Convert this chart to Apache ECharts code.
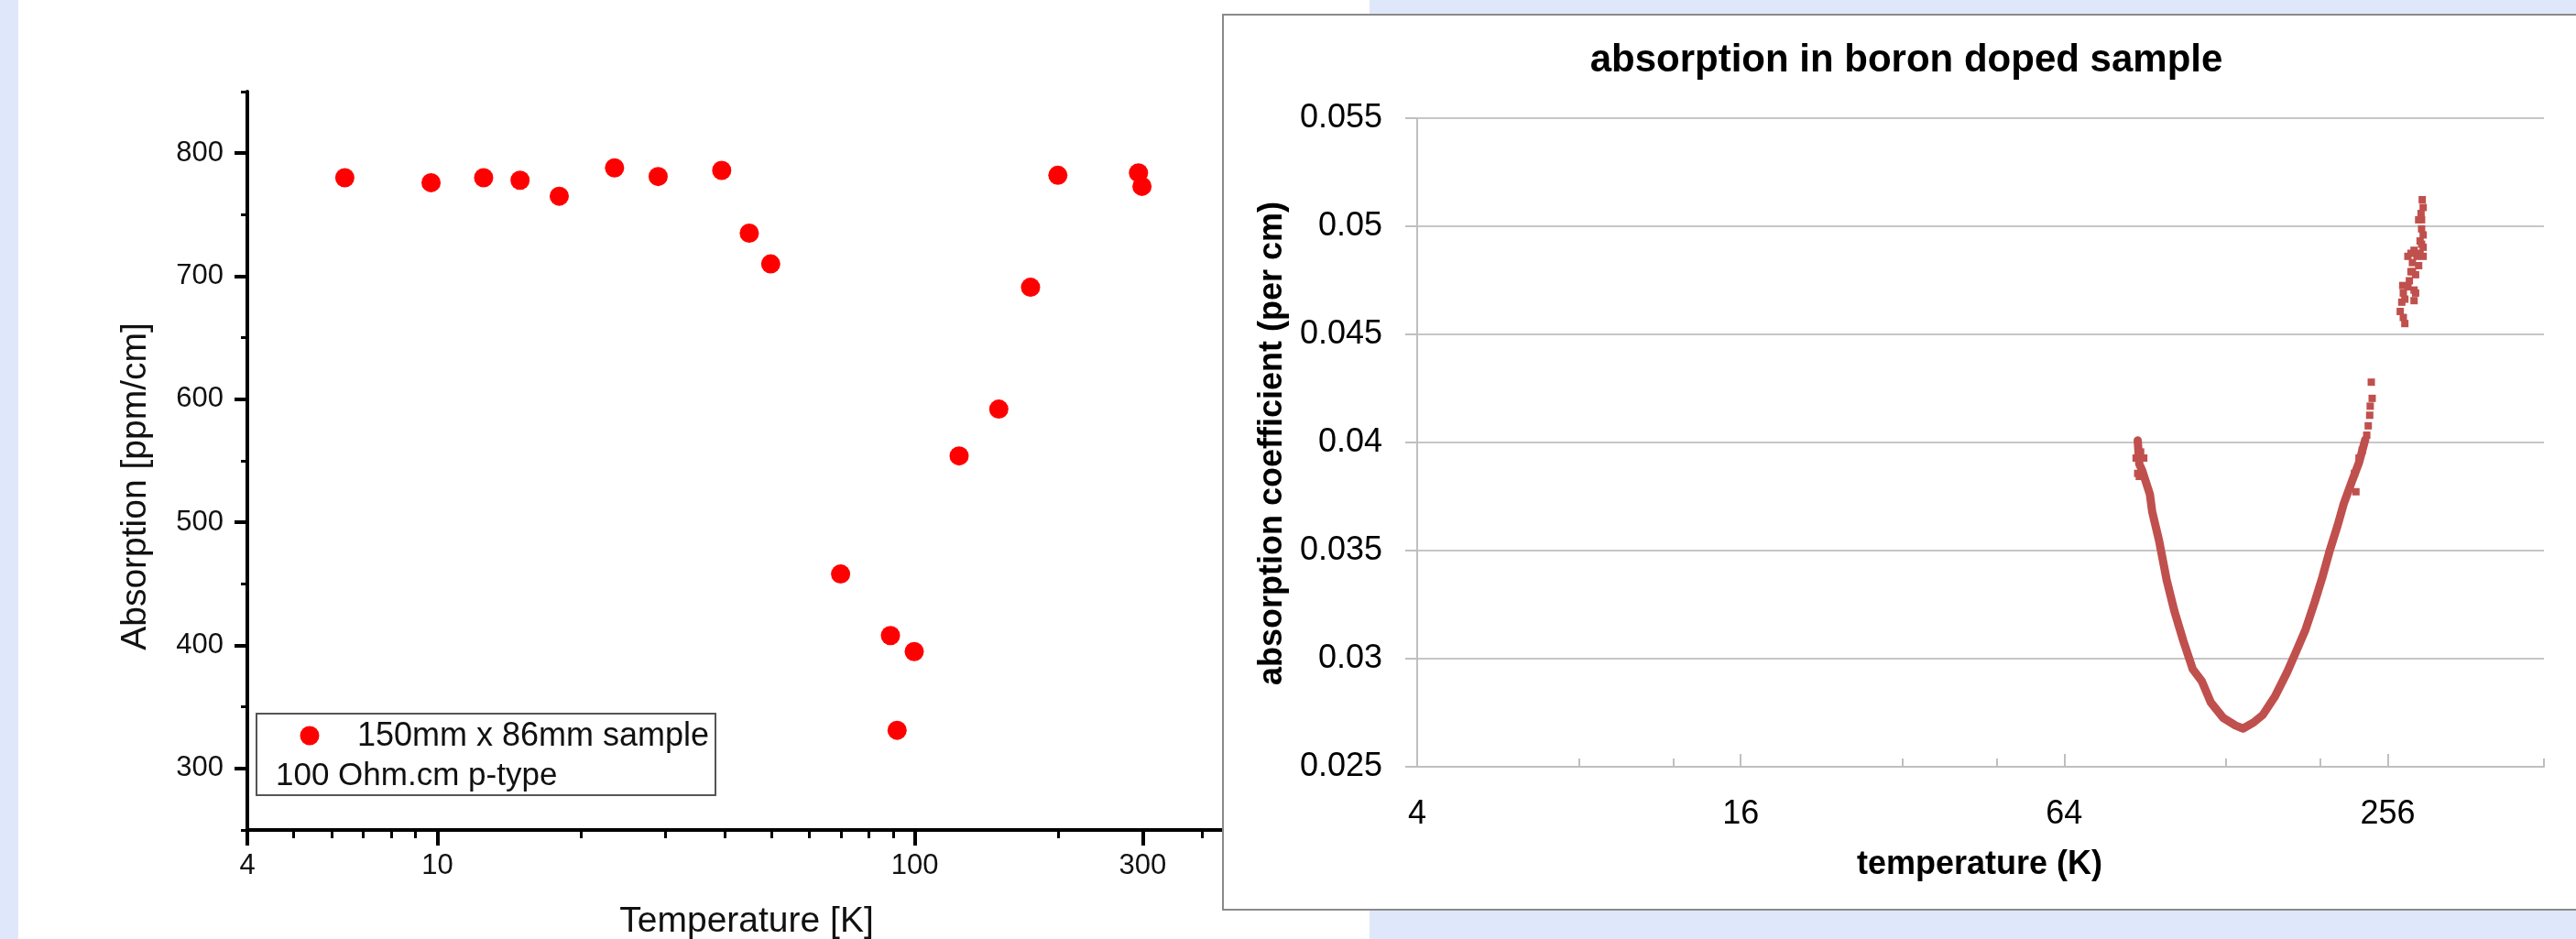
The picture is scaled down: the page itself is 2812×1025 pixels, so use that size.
<!DOCTYPE html>
<html>
<head>
<meta charset="utf-8">
<script src="https://cdn.jsdelivr.net/npm/echarts@6/dist/echarts.min.js"></script>
<style>
html, body { margin: 0; padding: 0; background: #dfe8fa; }
#main { width: 2812px; height: 1025px; }
</style>
</head>
<body>
<div id="main"></div>
<script>
// left panel: Origin plot, 150mm x 86mm sample
var sampleTemp = [6.4, 9.7, 12.5, 14.9, 18, 23.5, 29, 39.4, 45, 49.9, 69.9, 88.9, 91.8, 99.7, 123.8, 149.9, 174.7, 199.3, 294, 299];
var sampleAbs = [780, 776, 780, 778, 765, 788, 781, 786, 735, 710, 458, 408, 331, 395, 554, 592, 691, 782, 784, 773];
var leftXMajor = [4, 10, 100, 300];
var leftXMinor = [5, 6, 7, 8, 9, 20, 30, 40, 50, 60, 70, 80, 90, 200, 400];
var leftYMajor = [300, 400, 500, 600, 700, 800];
var leftYMinor = [250, 350, 450, 550, 650, 750, 850];

// right panel: Excel plot, boron doped sample
var boronTemp = [87.7, 88.3, 89.4, 92.4, 93.3, 96.1, 99.3, 102.6, 106.7, 111, 115.4, 120, 126.5, 133.3, 137.7, 144.1, 149.9, 157.9, 166.4, 173.2, 180.1, 187.3, 193.5, 199.9, 206.6, 212, 219.2, 226.4, 232.5];
var boronAbs = [0.0401, 0.039, 0.0387, 0.0376, 0.0368, 0.03546, 0.03363, 0.03221, 0.0308, 0.02952, 0.02896, 0.02797, 0.02726, 0.02691, 0.02677, 0.02705, 0.0274, 0.02825, 0.02938, 0.03037, 0.03136, 0.03263, 0.03377, 0.03504, 0.03617, 0.03716, 0.03815, 0.03907, 0.04013];
// loose points (start of run, top of the rising arm, room temperature cluster)
var boronNoiseTemp = [87.1, 88.8, 90, 87.7, 88.3, 223.4, 222, 229.5, 226.4, 234, 235.5, 237, 237.5, 239.5, 238.6,
    270.1, 273.7, 275.5, 271.9, 273.7, 273, 279.2, 280.9, 282.8, 284.6, 282.8, 286.6, 290.3, 292.3, 288.5, 286.6, 286.6, 294.1, 296, 296, 295.3, 292.3, 296.8, 298, 298,
    279.1, 298, 294.1, 284.6, 275.5, 288.5, 298, 296];
var boronNoiseAbs = [0.03928, 0.03956, 0.03928, 0.03857, 0.03843, 0.03772, 0.03857, 0.03963, 0.03928, 0.04034, 0.04077, 0.04126, 0.04168, 0.04204, 0.04279,
    0.04606, 0.04578, 0.0455, 0.04649, 0.04691, 0.04726, 0.0472, 0.04748, 0.0479, 0.04832, 0.04875, 0.04889, 0.04861, 0.04818, 0.04776, 0.04705, 0.04656, 0.04932, 0.04988, 0.0503, 0.05059, 0.0503, 0.05123, 0.05087, 0.04903,
    0.04861, 0.04861, 0.04875, 0.0479, 0.04663, 0.04691, 0.0496, 0.04917];
var rightXMajor = [4, 16, 64, 256];
var rightXMinor = [8, 12, 32, 48, 128, 192, 500];

function pairs(xs, ys) {
    var out = [];
    for (var i = 0; i < xs.length; i++) {
        out.push([xs[i], ys[i]]);
    }
    return out;
}

var font = 'Liberation Sans';
var excelRed = '#c0504d';
var excelGrey = '#bfbfbf';

var myChart = echarts.init(document.getElementById('main'));
var option = {
    animation: false,
    backgroundColor: '#dfe8fa',
    textStyle: { fontFamily: font },
    grid: [
        { left: 270, top: 100, width: 1093, height: 806, outerBoundsMode: 'none' },
        { left: 1547, top: 129, width: 1230, height: 708, outerBoundsMode: 'none' }
    ],
    xAxis: [
        {//左图主刻度
            gridIndex: 0, type: 'log', logBase: 10, min: 4, max: 500, position: 'bottom',
            axisLine: { onZero: false, lineStyle: { color: '#000', width: 4 } },
            axisTick: { customValues: leftXMajor, length: 17, lineStyle: { color: '#000', width: 4 } },
            axisLabel: { customValues: leftXMajor, fontSize: 31, margin: 24, color: '#111', fontFamily: font,
                formatter: function (v) { return String(Math.round(v)); } },
            splitLine: { show: false }
        },
        {//左图次刻度
            gridIndex: 0, type: 'log', logBase: 10, min: 4, max: 500, position: 'bottom',
            axisLine: { show: false, onZero: false },
            axisTick: { customValues: leftXMinor, length: 9, lineStyle: { color: '#000', width: 3 } },
            axisLabel: { show: false },
            splitLine: { show: false }
        },
        {//右图
            gridIndex: 1, type: 'log', logBase: 2, min: 4, max: 500, position: 'bottom', z: 5,
            axisLine: { onZero: false, lineStyle: { color: excelGrey, width: 2 } },
            axisTick: { customValues: rightXMajor, inside: true, length: 14, lineStyle: { color: excelGrey, width: 2 } },
            axisLabel: { customValues: rightXMajor, fontSize: 36, margin: 34, color: '#000', fontFamily: font,
                formatter: function (v) { return String(Math.round(v)); } },
            splitLine: { show: false }
        },
        {
            gridIndex: 1, type: 'log', logBase: 2, min: 4, max: 500, position: 'bottom', z: 5,
            axisLine: { show: false, onZero: false },
            axisTick: { customValues: rightXMinor, inside: true, length: 9, lineStyle: { color: excelGrey, width: 2 } },
            axisLabel: { show: false },
            splitLine: { show: false }
        }
    ],
    yAxis: [
        {
            gridIndex: 0, type: 'value', min: 250, max: 850, position: 'left',
            axisLine: { show: true, onZero: false, lineStyle: { color: '#000', width: 4 } },
            axisTick: { customValues: leftYMajor, length: 14, lineStyle: { color: '#000', width: 4 } },
            axisLabel: { customValues: leftYMajor, fontSize: 31, margin: 26, color: '#111', fontFamily: font },
            splitLine: { show: false }
        },
        {
            gridIndex: 0, type: 'value', min: 250, max: 850, position: 'left',
            axisLine: { show: false, onZero: false },
            axisTick: { customValues: leftYMinor, length: 7, lineStyle: { color: '#000', width: 3 } },
            axisLabel: { show: false },
            splitLine: { show: false }
        },
        {
            gridIndex: 1, type: 'value', min: 0.025, max: 0.055, interval: 0.005, position: 'left', z: 5,
            axisLine: { show: true, onZero: false, lineStyle: { color: excelGrey, width: 2 } },
            axisTick: { show: true, length: 13, lineStyle: { color: excelGrey, width: 2 } },
            axisLabel: { fontSize: 36, margin: 38, color: '#000', fontFamily: font,
                formatter: function (v) { return String(parseFloat(v.toFixed(4))); } },
            splitLine: { show: true, lineStyle: { color: '#c6c6c6', width: 2 } }
        }
    ],
    series: [
        {
            name: '150mm x 86mm sample',
            type: 'scatter',
            xAxisIndex: 0, yAxisIndex: 0,
            symbol: 'circle',
            symbolSize: 21,
            itemStyle: { color: '#ff0000', opacity: 1 },
            data: pairs(sampleTemp, sampleAbs)
        },
        {
            name: 'boron',
            type: 'line',
            xAxisIndex: 2, yAxisIndex: 2, z: 6,
            showSymbol: false,
            symbol: 'none',
            lineStyle: { color: excelRed, width: 9, cap: 'round', join: 'round' },
            data: pairs(boronTemp, boronAbs)
        },
        {
            name: 'boron points',
            type: 'scatter',
            xAxisIndex: 2, yAxisIndex: 2, z: 6,
            symbol: 'rect',
            symbolSize: 8,
            itemStyle: { color: excelRed, opacity: 1 },
            data: pairs(boronNoiseTemp, boronNoiseAbs)
        }
    ],
    graphic: [
        { type: 'rect', z: -5, shape: { x: 20, y: 0, width: 1475, height: 1025 }, style: { fill: '#fff' } },
        { type: 'rect', z: 3, shape: { x: 1335, y: 16, width: 1520, height: 977 }, style: { fill: '#fff', stroke: '#8a8a8a', lineWidth: 2 } },
        // legend box
        { type: 'rect', z: 3, shape: { x: 280, y: 779, width: 501, height: 89 }, style: { fill: 'none', stroke: '#555', lineWidth: 2 } },
        { type: 'circle', z: 4, shape: { cx: 338, cy: 803, r: 10.5 }, style: { fill: '#ff0000' } },
        { type: 'text', z: 10, x: 390, y: 804, style: { text: '150mm x 86mm sample', fontSize: 36, fontFamily: font, fill: '#111', align: 'left', verticalAlign: 'middle' } },
        { type: 'text', z: 10, x: 301, y: 847, style: { text: '100 Ohm.cm p-type', fontSize: 35, fontFamily: font, fill: '#111', align: 'left', verticalAlign: 'middle' } },
        // axis titles
        { type: 'text', z: 10, x: 148, y: 531, rotation: Math.PI / 2, style: { text: 'Absorption [ppm/cm]', fontSize: 39, fontFamily: font, fill: '#111', align: 'center', verticalAlign: 'middle' } },
        { type: 'text', z: 10, x: 815, y: 1006, style: { text: 'Temperature [K]', fontSize: 39, fontFamily: font, fill: '#111', align: 'center', verticalAlign: 'middle' } },
        { type: 'text', z: 10, x: 2081, y: 66, style: { text: 'absorption in boron doped sample', fontSize: 42, fontWeight: 'bold', fontFamily: font, fill: '#000', align: 'center', verticalAlign: 'middle' } },
        { type: 'text', z: 10, x: 1389, y: 484, rotation: Math.PI / 2, style: { text: 'absorption coefficient (per cm)', fontSize: 36, fontWeight: 'bold', fontFamily: font, fill: '#000', align: 'center', verticalAlign: 'middle' } },
        { type: 'text', z: 10, x: 2161, y: 944, style: { text: 'temperature (K)', fontSize: 36, fontWeight: 'bold', fontFamily: font, fill: '#000', align: 'center', verticalAlign: 'middle' } }
    ]
};
myChart.setOption(option);
</script>
</body>
</html>
